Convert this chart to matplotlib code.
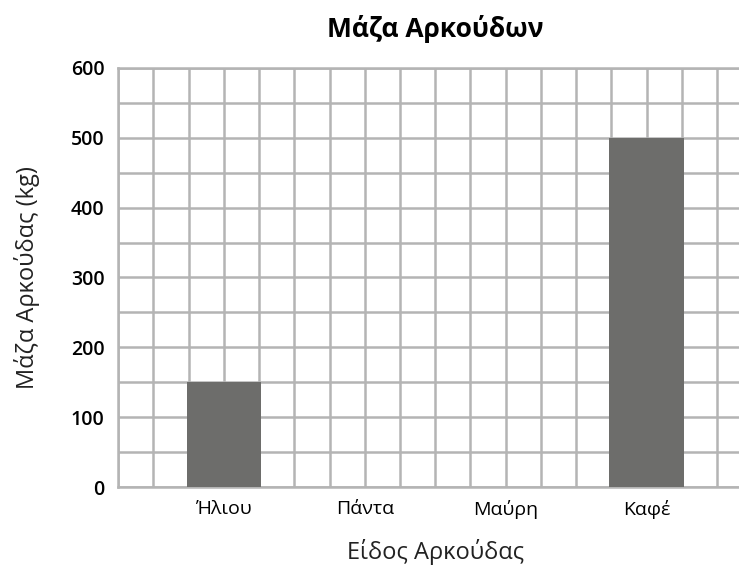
import numpy as np
import matplotlib
matplotlib.use("Agg")
import matplotlib.pyplot as plt

plt.rcParams['font.family'] = ['Open Sans', 'DejaVu Sans']

species = ["Ήλιου", "Πάντα", "Μαύρη", "Καφέ"]
mass = [150, 0, 0, 500]
yticks = [0, 100, 200, 300, 400, 500, 600]

fig = plt.figure(figsize=(7.39, 5.75), dpi=100)
ax = fig.add_axes([0.160, 0.153, 0.858, 0.729])

x = np.arange(len(species))
ax.bar(x, mass, width=0.53, color="#6d6d6b", zorder=3)

ax.set_xlim(-0.75, 3.75)
ax.set_ylim(0, 600)
ax.set_xticks(x)
ax.set_xticklabels(species, fontsize=14)
ax.set_yticks(yticks)
ax.set_yticklabels([str(v) for v in yticks], fontsize=14, fontweight="semibold")
ax.set_xticks(np.arange(-0.75, 3.8, 0.25), minor=True)
ax.set_yticks(np.arange(0, 601, 50), minor=True)
ax.xaxis.remove_overlapping_locs = False
ax.yaxis.remove_overlapping_locs = False
ax.grid(which="minor", color="#b4b4b4", linewidth=1.8, zorder=0)
ax.tick_params(which="both", length=0)
ax.tick_params(axis="x", pad=9)
ax.tick_params(axis="y", pad=10)
for s in ax.spines.values():
    s.set_color("#b4b4b4")
    s.set_linewidth(1.8)

ax.set_title("Μάζα Αρκούδων", fontsize=19, fontweight="bold", pad=22)
ax.set_xlabel("Είδος Αρκούδας", fontsize=17, labelpad=15, color="#222222")
ax.set_ylabel("Μάζα Αρκούδας (kg)", fontsize=17, labelpad=22, color="#222222")

fig.savefig("out.png", dpi=100)
